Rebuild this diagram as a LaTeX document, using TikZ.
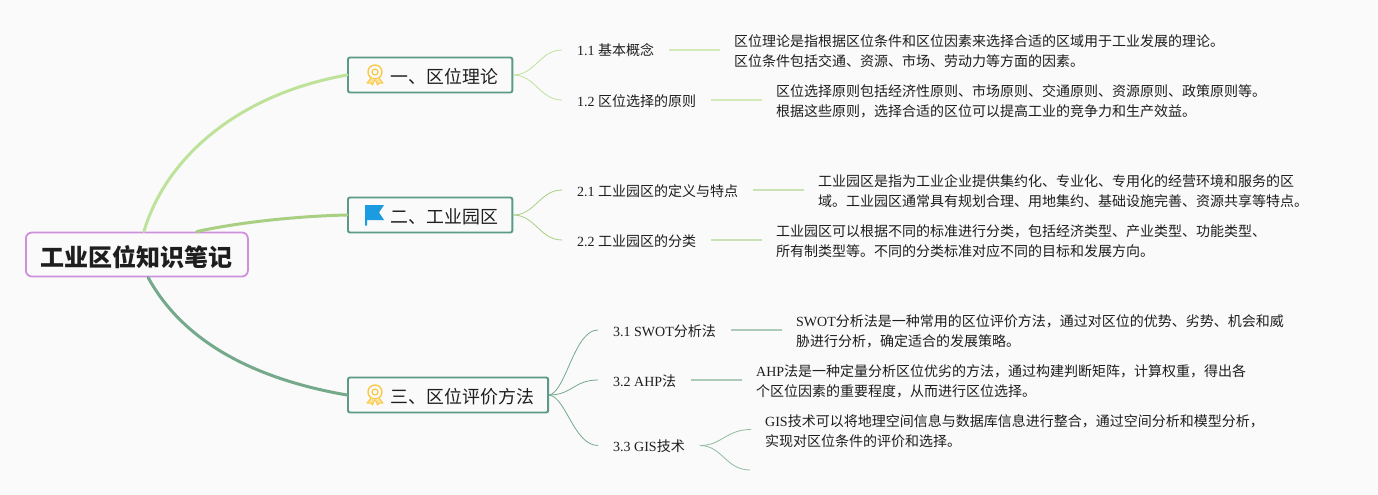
\documentclass[tikz,border=0pt]{standalone}
\usepackage{fontspec}
\setmainfont{Liberation Serif}
\newfontfamily\cjk{Noto Sans CJK SC}
\newcommand{\zh}[1]{{\cjk #1}}
\definecolor{ink}{HTML}{1E1E1E}
\definecolor{paper}{HTML}{FAFAFA}
\definecolor{rootline}{HTML}{CE8FDC}
\definecolor{mainline}{HTML}{5A9A86}
\definecolor{lime}{HTML}{BFE29A}
\definecolor{olive}{HTML}{A9CF82}
\definecolor{sage}{HTML}{75A98B}
\definecolor{gold}{HTML}{F9C846}
\definecolor{flagblue}{HTML}{1B9BE0}
\usetikzlibrary{calc}
\tikzset{
  rootbox/.style={draw=rootline, fill=paper, rounded corners=6pt, line width=1.8pt, text=ink,
    font=\fontsize{24}{28}\selectfont\bfseries, minimum height=44pt, minimum width=222pt, inner xsep=0pt, anchor=west,
    text height=24pt, text depth=0pt},
  mainbox/.style={draw=mainline, fill=paper, rounded corners=2pt, line width=1.9pt, text=ink,
    font=\fontsize{17.9}{22}\selectfont, minimum height=35pt, inner xsep=14pt, anchor=west,
    text height=17pt, text depth=0pt},
  leaf/.style={text=ink, font=\fontsize{14}{18}\selectfont, inner xsep=15pt, inner ysep=0pt, anchor=west,
    text height=12pt, text depth=0pt},
  detail/.style={text=ink, font=\fontsize{14}{20}\selectfont, align=left, inner xsep=14pt, inner ysep=0pt, anchor=west},
  trunk/.style={line width=3pt, line cap=round},
  twig/.style={line width=0.8pt},
  stem/.style={line width=1.6pt},
  ribbon/.pic={
    \draw[gold, line width=1.4pt] (0,0) circle (7);
    \draw[gold, line width=1.2pt] (0,0) circle (3);
    \draw[gold, fill=gold!55, line width=1pt, line join=round] (-4,6) -- (-8,11) -- (-4,11) -- (-2.5,13) -- (-0.5,8);
    \draw[gold, fill=gold!55, line width=1pt, line join=round] (4,6) -- (8,11) -- (4,11) -- (2.5,13) -- (0.5,8);
  },
}
\begin{document}
\begin{tikzpicture}[x=1pt, y=-1pt]
  \useasboundingbox[fill=paper] (0,0) rectangle (1378,495);

  \node[rootbox] (root) at (25,254.5) {\zh{工业区位知识笔记}};

  % The three chapters, with room for the icon before the text.
  \node[mainbox] (theory) at (347,75)  {\hspace*{29pt}\zh{一、区位理论}};
  \node[mainbox] (park)   at (347,215) {\hspace*{29pt}\zh{二、工业园区}};
  \node[mainbox] (method) at (347,395) {\hspace*{29pt}\zh{三、区位评价方法}};

  \draw[trunk, lime]  (root.73) .. controls (165,160) and (235,95) .. (theory.west);
  \draw[trunk, olive] (root.21.5) .. controls (240,222) and (300,216) .. (park.west);
  \draw[trunk, sage]  (root.-64) .. controls (185,345) and (260,380) .. (method.west);

  \pic at (375,72) {ribbon};
  \pic at (375,392) {ribbon};
  \fill[flagblue] (365,205) -- (384,205) -- (379,212.5) -- (384,220) -- (367,220) -- (367,225.5) -- (365,225.5) -- cycle;

  % Chapter one.
  \node[leaf] (concept) at (562,50)  {1.1 \zh{基本概念}};
  \node[leaf] (choice)  at (562,100) {1.2 \zh{区位选择的原则}};
  \node[detail] (conceptnote) at (720,51.5)
    {\zh{区位理论是指根据区位条件和区位因素来选择合适的区域用于工业发展的理论。}\\
     \zh{区位条件包括交通、资源、市场、劳动力等方面的因素。}};
  \node[detail] (choicenote) at (762,101.5)
    {\zh{区位选择原则包括经济性原则、市场原则、交通原则、资源原则、政策原则等。}\\
     \zh{根据这些原则，选择合适的区位可以提高工业的竞争力和生产效益。}};

  \draw[twig, lime] (theory.east) .. controls (535,75) and (540,50) .. (concept.west);
  \draw[twig, lime] (theory.east) .. controls (535,75) and (540,100) .. (choice.west);
  \draw[stem, lime!70] (concept.east) -- (concept.east -| conceptnote.west);
  \draw[stem, lime!70] (choice.east) -- (choice.east -| choicenote.west);

  % Chapter two.
  \node[leaf] (define) at (562,190) {2.1 \zh{工业园区的定义与特点}};
  \node[leaf] (kinds)  at (562,240) {2.2 \zh{工业园区的分类}};
  \node[detail] (definenote) at (804,191.5)
    {\zh{工业园区是指为工业企业提供集约化、专业化、专用化的经营环境和服务的区}\\
     \zh{域。工业园区通常具有规划合理、用地集约、基础设施完善、资源共享等特点。}};
  \node[detail] (kindsnote) at (762,241.5)
    {\zh{工业园区可以根据不同的标准进行分类，包括经济类型、产业类型、功能类型、}\\
     \zh{所有制类型等。不同的分类标准对应不同的目标和发展方向。}};

  \draw[twig, olive] (park.east) .. controls (535,215) and (540,190) .. (define.west);
  \draw[twig, olive] (park.east) .. controls (535,215) and (540,240) .. (kinds.west);
  \draw[stem, olive!60] (define.east) -- (define.east -| definenote.west);
  \draw[stem, olive!60] (kinds.east) -- (kinds.east -| kindsnote.west);

  % Chapter three; the lower branch of the last one stays empty.
  \node[leaf] (swot) at (598,330) {3.1 SWOT\zh{分析法}};
  \node[leaf] (ahp)  at (598,380) {3.2 AHP\zh{法}};
  \node[leaf] (gis)  at (598,445.5) {3.3 GIS\zh{技术}};
  \node[detail] (swotnote) at (782,331.5)
    {SWOT\zh{分析法是一种常用的区位评价方法，通过对区位的优势、劣势、机会和威}\\
     \zh{胁进行分析，确定适合的发展策略。}};
  \node[detail] (ahpnote) at (742,381.5)
    {AHP\zh{法是一种定量分析区位优劣的方法，通过构建判断矩阵，计算权重，得出各}\\
     \zh{个区位因素的重要程度，从而进行区位选择。}};
  \node[detail] (gisnote) at (751,431.5)
    {GIS\zh{技术可以将地理空间信息与数据库信息进行整合，通过空间分析和模型分析，}\\
     \zh{实现对区位条件的评价和选择。}};
  \coordinate (gisempty) at (750,470);

  \draw[twig, sage] (method.east) .. controls (566,392) and (574,330) .. (swot.west);
  \draw[twig, sage] (method.east) .. controls (572,395) and (574,380) .. (ahp.west);
  \draw[twig, sage] (method.east) .. controls (566,397) and (574,445.5) .. (gis.west);
  \draw[stem, sage!60] (swot.east) -- (swot.east -| swotnote.west);
  \draw[stem, sage!60] (ahp.east) -- (ahp.east -| ahpnote.west);
  \draw[twig, sage!80] (gis.east) .. controls (722,445.5) and (726,429.5) .. ($(gisnote.west)+(0,-2)$);
  \draw[twig, sage!80] (gis.east) .. controls (722,445.5) and (726,470) .. (gisempty);
\end{tikzpicture}
\end{document}
